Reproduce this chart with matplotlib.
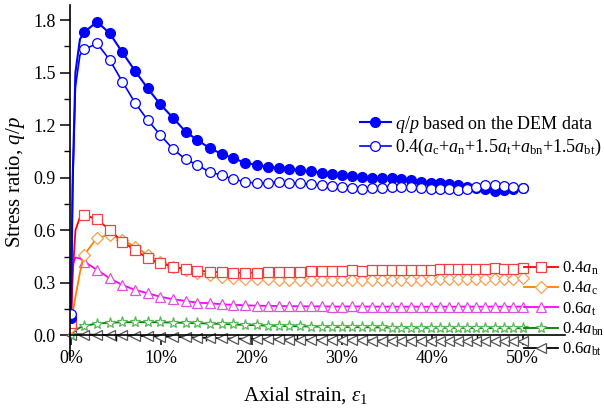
import numpy as np
import matplotlib
matplotlib.use("Agg")
import matplotlib.pyplot as plt
from matplotlib.ticker import MultipleLocator, FuncFormatter

plt.rcParams['font.family'] = ['Liberation Serif', 'DejaVu Serif']
plt.rcParams['mathtext.fontset'] = 'custom'
plt.rcParams['mathtext.rm'] = 'Liberation Serif'
plt.rcParams['mathtext.it'] = 'Liberation Serif:italic'

# axial strain (%) - first 4 points only shape the initial rise, markers start at index 4
strain = [0, 0.2, 0.5, 1.0,
          1.5, 2.9, 4.3, 5.7, 7.1, 8.5, 9.9, 11.3, 12.7, 14.0, 15.4, 16.7, 18.0, 19.3,
          20.6, 21.8, 23.0, 24.2, 25.4, 26.6, 27.8, 28.9, 30.0, 31.1, 32.2, 33.3, 34.4,
          35.5, 36.6, 37.7, 38.8, 39.9, 40.9, 41.9, 42.9, 43.9, 44.9, 45.9, 46.9, 47.9,
          48.9, 50.0]

qp_dem = [0.10, 0.90, 1.50, 1.69,
          1.733, 1.790, 1.724, 1.615, 1.510, 1.410, 1.319, 1.242, 1.163, 1.115, 1.068,
          1.036, 1.011, 0.985, 0.973, 0.960, 0.958, 0.952, 0.942, 0.936, 0.930, 0.923,
          0.915, 0.908, 0.902, 0.900, 0.897, 0.897, 0.894, 0.890, 0.878, 0.872, 0.868,
          0.864, 0.857, 0.849, 0.841, 0.837, 0.826, 0.830, 0.835, 0.840]

qp_fit = [0.12, 0.85, 1.42, 1.60,
          1.633, 1.667, 1.572, 1.448, 1.328, 1.229, 1.144, 1.064, 1.005, 0.973, 0.931,
          0.916, 0.891, 0.877, 0.868, 0.870, 0.877, 0.870, 0.868, 0.864, 0.858, 0.855,
          0.848, 0.842, 0.838, 0.840, 0.843, 0.847, 0.850, 0.845, 0.840, 0.838, 0.837,
          0.835, 0.830, 0.838, 0.848, 0.860, 0.858, 0.852, 0.846, 0.843]

a_n = [0.07, 0.35, 0.60, 0.675,
       0.687, 0.663, 0.602, 0.535, 0.488, 0.440, 0.412, 0.392, 0.379, 0.370, 0.364,
       0.360, 0.358, 0.358, 0.359, 0.360, 0.362, 0.363, 0.364, 0.366, 0.367, 0.369,
       0.370, 0.371, 0.370, 0.372, 0.372, 0.373, 0.374, 0.374, 0.375, 0.376, 0.378,
       0.379, 0.381, 0.380, 0.382, 0.381, 0.383, 0.382, 0.381, 0.383]

a_c = [0.05, 0.13, 0.22, 0.36,
       0.462, 0.558, 0.573, 0.545, 0.507, 0.459, 0.421, 0.392, 0.374, 0.358, 0.345,
       0.334, 0.328, 0.324, 0.322, 0.320, 0.319, 0.318, 0.317, 0.317, 0.316, 0.316,
       0.317, 0.316, 0.317, 0.318, 0.317, 0.318, 0.319, 0.318, 0.319, 0.320, 0.321,
       0.320, 0.322, 0.321, 0.323, 0.322, 0.324, 0.323, 0.324, 0.326]

a_t = [0.06, 0.40, 0.445, 0.44,
       0.421, 0.374, 0.326, 0.288, 0.260, 0.241, 0.221, 0.207, 0.197, 0.187, 0.184,
       0.178, 0.175, 0.172, 0.170, 0.169, 0.168, 0.167, 0.167, 0.166, 0.166, 0.165,
       0.165, 0.166, 0.165, 0.165, 0.164, 0.165, 0.164, 0.165, 0.164, 0.164, 0.165,
       0.164, 0.164, 0.165, 0.164, 0.164, 0.165, 0.164, 0.164, 0.165]

a_bn = [0.0, 0.015, 0.03, 0.045,
        0.055, 0.068, 0.073, 0.075, 0.076, 0.076, 0.075, 0.074, 0.072, 0.070, 0.068,
        0.066, 0.063, 0.060, 0.058, 0.056, 0.055, 0.053, 0.052, 0.051, 0.050, 0.049,
        0.048, 0.047, 0.047, 0.046, 0.046, 0.045, 0.045, 0.044, 0.044, 0.044, 0.043,
        0.043, 0.043, 0.042, 0.042, 0.042, 0.042, 0.042, 0.041, 0.041]

a_bt = [0.0, 0.004, 0.006, 0.006,
        0.005, 0.004, 0.002, 0.0, -0.002, -0.004, -0.006, -0.008, -0.010, -0.012,
        -0.014, -0.016, -0.018, -0.019, -0.020, -0.021, -0.022, -0.023, -0.024, -0.025,
        -0.026, -0.027, -0.027, -0.028, -0.028, -0.029, -0.029, -0.030, -0.030, -0.030,
        -0.031, -0.031, -0.031, -0.032, -0.032, -0.032, -0.033, -0.033, -0.033, -0.033,
        -0.034, -0.034]

marks = [0] + list(range(4, len(strain)))

fig = plt.figure(figsize=(6.04, 4.09), dpi=100)
ax = fig.add_axes([0.1159, 0.1198, 0.8195, 0.868])

ms = 7
ax.plot(strain, a_bt, color='black', lw=1.3, marker='<', markevery=marks, ms=ms,
        mfc='white', mec='#555555', mew=0.9, label=r'0.6$a_\mathrm{bt}$', clip_on=False)
ax.plot(strain, a_bn, color='#008000', lw=1.3, marker='*', markevery=marks, ms=ms + 1,
        mfc='white', mec='#55b855', mew=0.9, label=r'0.4$a_\mathrm{bn}$')
ax.plot(strain, a_t, color='#ff00ff', lw=1.3, marker='^', markevery=marks, ms=ms,
        mfc='white', mec='#e050e0', mew=0.9, label=r'0.6$a_\mathrm{t}$')
ax.plot(strain, a_c, color='#ff8000', lw=1.3, marker='D', markevery=marks, ms=ms - 1,
        mfc='white', mec='#f5a050', mew=0.9, label=r'0.4$a_\mathrm{c}$')
ax.plot(strain, a_n, color='#ff0000', lw=1.3, marker='s', markevery=marks, ms=ms,
        mfc='white', mec='#f04040', mew=0.9, label=r'0.4$a_\mathrm{n}$')
ax.plot(strain, qp_dem, color='#0000ff', lw=1.5, marker='o', markevery=marks, ms=ms,
        mfc='#0000ff', mec='#0000ff', label=r'$q/p$ based on the DEM data')
ax.plot(strain, qp_fit, color='#0000ff', lw=1.2, marker='o', markevery=marks, ms=ms,
        mfc='white', mec='#0000ff', mew=0.9,
        label=r'0.4($a_\mathrm{c}$+$a_\mathrm{n}$+1.5$a_\mathrm{t}$+$a_\mathrm{bn}$+1.5$a_\mathrm{bt}$)')

ax.set_xlim(-0.1, 54.7)
ax.set_ylim(-0.14, 1.886)
ax.spines['top'].set_visible(False)
ax.spines['right'].set_visible(False)
ax.spines['bottom'].set_position(('data', 0))
for s in ('left', 'bottom'):
    ax.spines[s].set_linewidth(1.2)

ax.xaxis.set_major_locator(MultipleLocator(10))
ax.xaxis.set_minor_locator(MultipleLocator(5))
ax.xaxis.set_major_formatter(FuncFormatter(lambda v, p: '%d%%' % v))
ax.yaxis.set_major_locator(MultipleLocator(0.3))
ax.yaxis.set_minor_locator(MultipleLocator(0.15))
ax.yaxis.set_major_formatter(FuncFormatter(lambda v, p: '%.1f' % v))
ax.set_yticks(np.arange(0, 1.81, 0.3))
ax.tick_params(which='major', direction='out', length=7, width=1.1, labelsize=13)
ax.tick_params(which='minor', direction='out', length=4, width=1.0)

ax.set_xlabel(r'Axial strain, $\varepsilon_1$', fontsize=15)
ax.xaxis.set_label_coords(0.475, -0.072)
ax.set_ylabel(r'Stress ratio, $q/p$', fontsize=15)

h, l = ax.get_legend_handles_labels()
leg1 = fig.legend(h[5:], l[5:], loc='upper left', bbox_to_anchor=(0.596, 0.722),
                  frameon=False, fontsize=13, handlelength=1.7, handletextpad=0.25,
                  borderpad=0, borderaxespad=0, labelspacing=0.12)
leg2 = fig.legend(h[4::-1], l[4::-1], loc='upper left', bbox_to_anchor=(0.868, 0.365),
                  frameon=False, fontsize=12, handlelength=2.0, handletextpad=0.25,
                  borderpad=0, borderaxespad=0, labelspacing=0.17)

fig.savefig('out.png', dpi=100)
